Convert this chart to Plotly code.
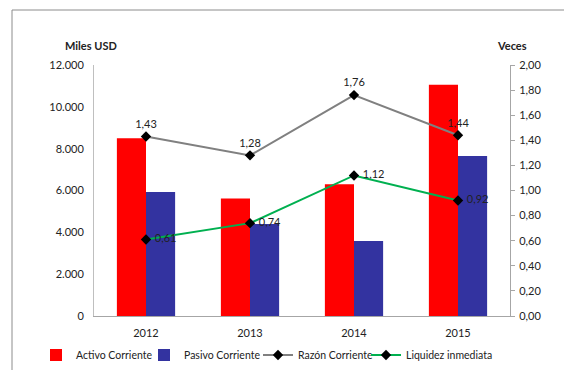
import plotly.graph_objects as go

years = ["2012", "2013", "2014", "2015"]
activo_corriente = [8500, 5620, 6300, 11050]
pasivo_corriente = [5930, 4400, 3580, 7650]
razon_corriente = [1.43, 1.28, 1.76, 1.44]
liquidez_inmediata = [0.61, 0.74, 1.12, 0.92]

left_ticks = [0, 2000, 4000, 6000, 8000, 10000, 12000]
left_tick_text = ["0", "2.000", "4.000", "6.000", "8.000", "10.000", "12.000"]
right_ticks = [0, 0.2, 0.4, 0.6, 0.8, 1.0, 1.2, 1.4, 1.6, 1.8, 2.0]


def es_fmt(v):
    return f"{v:.2f}".replace(".", ",")


FONT = "Lato"
W, H = 564, 370
ML, MR, MT, MB = 94, 54, 65, 54
plot_w = W - ML - MR
plot_h = H - MT - MB


def px_x(px):
    return (px - ML) / plot_w


def px_y(py):
    return (H - MB - py) / plot_h


fig = go.Figure()

fig.add_trace(go.Bar(x=years, y=activo_corriente, name="Activo Corriente",
                     legend="legend",
                     marker=dict(color="#FF0000", line=dict(width=0))))
fig.add_trace(go.Bar(x=years, y=pasivo_corriente, name="Pasivo Corriente",
                     legend="legend2",
                     marker=dict(color="#3333A0", line=dict(width=0))))

fig.add_trace(go.Scatter(
    x=years, y=razon_corriente, name="Razón Corriente", yaxis="y2",
    legend="legend3",
    mode="lines+markers+text",
    line=dict(color="#808080", width=2),
    marker=dict(symbol="diamond", size=8, color="#000000"),
    text=[es_fmt(v) for v in razon_corriente], textposition="top center",
    textfont=dict(family=FONT, size=11, color="#222222"),
))
fig.add_trace(go.Scatter(
    x=years, y=liquidez_inmediata, name="Liquidez inmediata", yaxis="y2",
    legend="legend4",
    mode="lines+markers+text",
    line=dict(color="#00B050", width=2),
    marker=dict(symbol="diamond", size=8, color="#000000"),
    text=[" " + es_fmt(v) for v in liquidez_inmediata], textposition="middle right",
    textfont=dict(family=FONT, size=11, color="#222222"),
))


def legend_at(px):
    # One legend box per series, laid out in a single row under the axis
    return dict(orientation="h", xref="container", yref="container",
                x=px / W, xanchor="left", y=(H - 355) / H, yanchor="middle",
                font=dict(family=FONT, size=10.5), itemwidth=30,
                bgcolor="rgba(0,0,0,0)")


fig.update_layout(
    width=W, height=H,
    margin=dict(l=ML, r=MR, t=MT, b=MB, autoexpand=False),
    paper_bgcolor="white", plot_bgcolor="white",
    font=dict(family=FONT, size=11, color="#222222"),
    barmode="group", bargap=0.44, bargroupgap=0,
    showlegend=True,
    legend=legend_at(36),
    legend2=legend_at(144),
    legend3=legend_at(258),
    legend4=legend_at(366),
    xaxis=dict(type="category", showline=True, linecolor="#A6A6A6", linewidth=1,
               ticks="", showgrid=False, tickfont=dict(size=11),
               ticklabelstandoff=7),
    yaxis=dict(range=[0, 12000], tickvals=left_ticks, ticktext=left_tick_text,
               showgrid=False, showline=True, linecolor="#BFBFBF", linewidth=1,
               ticks="", zeroline=False, tickfont=dict(size=11),
               ticklabelstandoff=7),
    yaxis2=dict(range=[0, 2], tickvals=right_ticks,
                ticktext=[es_fmt(v) for v in right_ticks],
                overlaying="y", side="right", showgrid=False, showline=True,
                linecolor="#A6A6A6", linewidth=1, ticks="outside", ticklen=4,
                tickcolor="#A6A6A6", zeroline=False, tickfont=dict(size=11),
                ticklabelstandoff=2),
    annotations=[
        dict(text="<b>Miles USD</b>", x=px_x(91), y=px_y(45), xref="paper", yref="paper",
             xanchor="center", yanchor="middle", showarrow=False, font=dict(size=11)),
        dict(text="<b>Veces</b>", x=px_x(512), y=px_y(45), xref="paper", yref="paper",
             xanchor="center", yanchor="middle", showarrow=False, font=dict(size=11)),
    ],
)

# Outer chart frame (left and top edges visible)
fig.add_shape(type="rect", xref="paper", yref="paper",
              x0=px_x(12), x1=px_x(570), y0=px_y(380), y1=px_y(10),
              line=dict(color="#8C8C8C", width=1), fillcolor="rgba(0,0,0,0)",
              layer="below")

fig.write_html("out.html")
